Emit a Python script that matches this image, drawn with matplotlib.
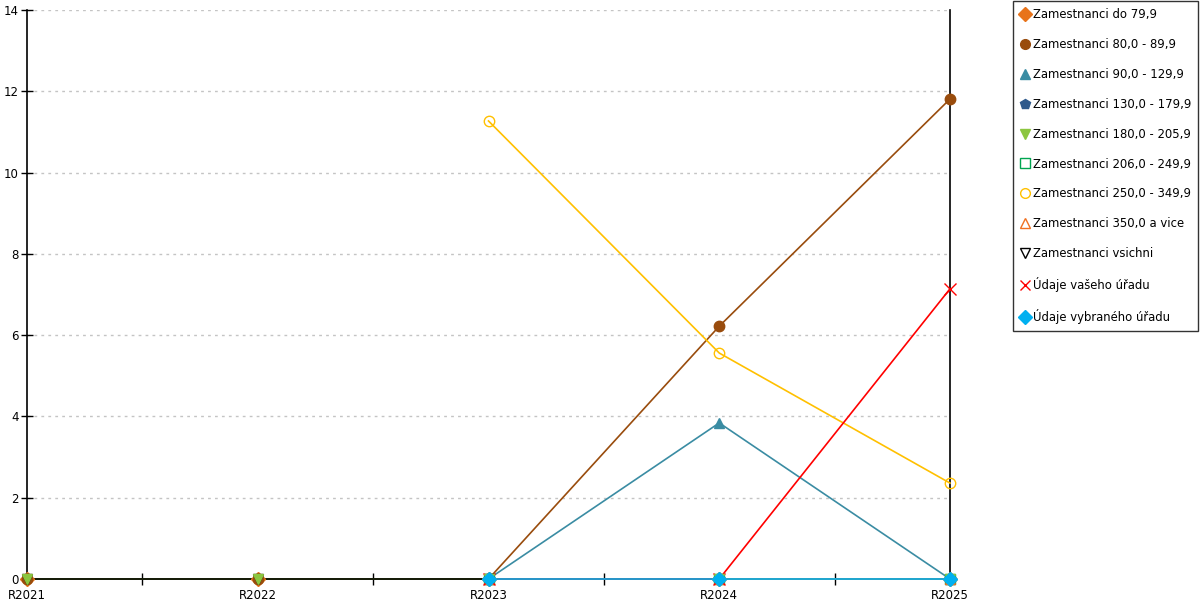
import matplotlib
matplotlib.use("Agg")
import matplotlib.pyplot as plt
from matplotlib.lines import Line2D
import numpy as np

# Data
years = ["R2021", "R2022", "R2023", "R2024", "R2025"]
nan = np.nan

do_79 = [0, 0, 0, 0, 0]
z80_89 = [0, 0, 0, 6.22, 11.81]
z90_129 = [nan, nan, 0, 3.84, 0]
z130_179 = [nan, nan, 0, 0, 0]
z180_205 = [0, 0, 0, 0, 0]
z206_249 = [nan, nan, 0, 0, 0]
z250_349 = [nan, nan, 11.27, 5.56, 2.36]
z350 = [nan, nan, 0, 0, 0]
vsichni = [0, 0, 0, nan, nan]
vas_urad = [nan, nan, 0, 0, 7.14]
vybrany_urad = [nan, nan, 0, 0, 0]

# name, values, colour, marker, filled, marker zorder
series = [
    ("Zamestnanci do 79,9", do_79, "#E8731A", "D", True, 4),
    ("Zamestnanci 80,0 - 89,9", z80_89, "#994C0D", "o", True, 4),
    ("Zamestnanci 90,0 - 129,9", z90_129, "#3A8CA3", "^", True, 4),
    ("Zamestnanci 130,0 - 179,9", z130_179, "#2F5A8C", "p", True, 4),
    ("Zamestnanci 180,0 - 205,9", z180_205, "#8CC63F", "v", True, 4.5),
    ("Zamestnanci 206,0 - 249,9", z206_249, "#00A550", "s", False, 4),
    ("Zamestnanci 250,0 - 349,9", z250_349, "#FFC000", "o", False, 4),
    ("Zamestnanci 350,0 a vice", z350, "#F07020", "^", False, 4),
    ("Zamestnanci vsichni", vsichni, "#000000", "v", False, 4),
    ("Údaje vašeho úřadu", vas_urad, "#FF0000", "x", True, 4),
    ("Údaje vybraného úřadu", vybrany_urad, "#00B0F0", "D", True, 4.6),
]

plt.rcParams['font.family'] = ['DejaVu Sans']

fig = plt.figure(figsize=(12, 6), dpi=100)
ax = fig.add_axes([27 / 1200, 21 / 600, 923 / 1200, 569 / 600])

x = np.arange(len(years))
handles = []
# lines first
for name, vals, color, marker, filled, z in series:
    ax.plot(x, vals, color=color, lw=1.2, clip_on=False, zorder=3)
# then markers
for name, vals, color, marker, filled, z in series:
    face = color if filled else "none"
    ms = 7.5 if marker != "x" else 8
    ax.plot(x, vals, ls="none", marker=marker, markersize=ms,
            markerfacecolor=face, markeredgecolor=color, markeredgewidth=1.0,
            clip_on=False, zorder=z)
    handles.append(Line2D([], [], ls="none", marker=marker, markersize=7,
                          markerfacecolor=face, markeredgecolor=color,
                          markeredgewidth=1.0, label=name))

ax.set_xlim(0, len(years) - 1)
ax.set_ylim(0, 14)
ax.set_yticks(range(0, 15, 2))
ax.set_xticks(x)
ax.set_xticklabels(years)
ax.set_xticks(x[:-1] + 0.5, minor=True)
ax.tick_params(axis="x", which="major", length=0, pad=7, labelsize=8.5)
ax.tick_params(axis="x", which="minor", length=8, direction="inout", width=1)
ax.tick_params(axis="y", length=8, direction="inout", width=1, pad=2, labelsize=8.5)

ax.grid(axis="y", color="#c4c4c4", linestyle=(0, (2, 3)), linewidth=1)
ax.set_axisbelow(True)
ax.spines["top"].set_visible(False)
for s in ["left", "right", "bottom"]:
    ax.spines[s].set_color("black")
    ax.spines[s].set_linewidth(1.2)

leg = fig.legend(handles=handles, loc="upper left",
                 bbox_to_anchor=(1013 / 1200, 599 / 600), fontsize=8.4,
                 frameon=True, fancybox=False, edgecolor="black",
                 labelspacing=1.45, handlelength=0.8, handletextpad=0.3,
                 borderpad=0.6, borderaxespad=0)
leg.get_frame().set_linewidth(1.0)

fig.savefig("out.png", dpi=100)
